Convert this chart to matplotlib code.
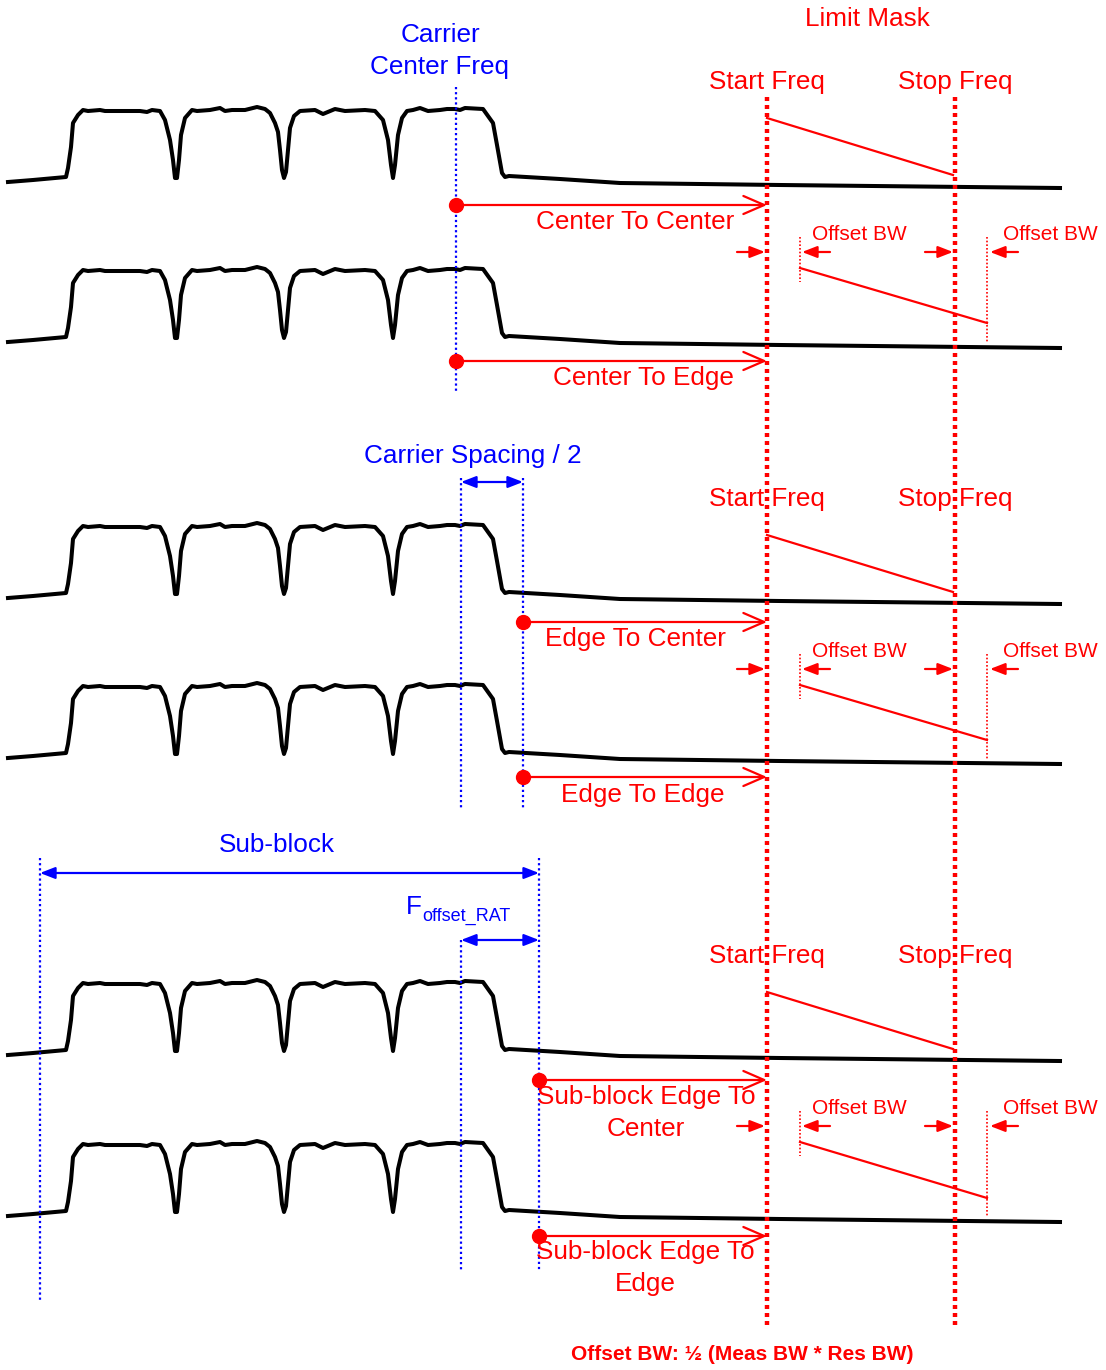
import matplotlib.pyplot as plt

plt.rcParams['font.family'] = ['Liberation Sans', 'DejaVu Sans']

RED = '#ff0000'
BLUE = '#0000ff'

# spectrum trace template (pixel coords of the top trace)
wave_x = [8, 33, 66, 68, 71, 73, 78, 83, 88, 100, 105, 140, 147, 152, 160, 165, 170, 173, 175, 177, 179, 181, 185,
          192, 197, 210, 220, 225, 232, 245, 257, 265, 270, 275, 278, 280, 282, 284, 286, 288, 290, 294,
          300, 315, 323, 335, 345, 365, 375, 383, 388, 391, 393, 395, 398, 402,
          407, 413, 420, 428, 440, 447, 455, 460, 465, 483, 493, 497, 502, 505, 509,
          560, 620, 780, 1060]
wave_y = [182, 180, 177, 168, 147, 123, 115, 110, 111, 110, 111, 111, 112, 110, 111, 120, 140, 160, 178, 178, 160, 135, 118,
          110, 111, 110, 108, 111, 110, 110, 107, 109, 113, 123, 132, 150, 170, 178, 172, 150, 128, 116,
          111, 110, 114, 109, 111, 110, 111, 120, 140, 165, 178, 165, 135, 118,
          111, 110, 108, 111, 110, 109, 109, 110, 108, 109, 123, 145, 173, 177, 176,
          179, 183, 185, 188]
trace_offsets = [0, 160, 416, 576, 873, 1034]

# limit mask
start_x, stop_x = 767, 955
mask_top, mask_bottom = 97, 1325
mask_slopes = [(767, 118, 953, 175), (800, 268, 987, 323),
               (767, 535, 953, 592), (800, 685, 987, 740),
               (767, 992, 953, 1049), (800, 1142, 987, 1198)]
freq_label_y = [82, 499, 956]
offset_rows = [252, 669, 1126]   # arrow y for offset BW marks
offset_text_y = [234, 651, 1108]

# offset measurement arrows
meas_x0 = [456, 456, 523, 523, 539, 539]
meas_y = [205, 361, 622, 777, 1080, 1236]
meas_labels = ['Center To Center', 'Center To Edge', 'Edge To Center', 'Edge To Edge',
               'Sub-block Edge To\nCenter', 'Sub-block Edge To\nEdge']
meas_label_x = [635, 643, 635, 643, 646, 645]
meas_label_y = [222, 378, 639, 795, 1113, 1268]

fig = plt.figure(figsize=(11.06, 13.70), dpi=100)
ax = fig.add_axes([0, 0, 1, 1])
ax.set_xlim(0, 1106)
ax.set_ylim(1370, 0)
ax.axis('off')

for off in trace_offsets:
    ax.plot(wave_x, [y + off for y in wave_y], color='black', lw=2.9, solid_joinstyle='round', zorder=3)

# start / stop verticals
for x in (start_x, stop_x):
    ax.plot([x, x], [mask_top, mask_bottom], color=RED, lw=3.2, linestyle=(0, (0.9, 0.9)), zorder=4)

for x0, y0, x1, y1 in mask_slopes:
    ax.plot([x0, x1], [y0, y1], color=RED, lw=1.6, zorder=4)

fs = 18.8
ax.text(867, 19, 'Limit Mask', color=RED, fontsize=fs, ha='center', va='center')
for y in freq_label_y:
    ax.text(start_x, y, 'Start Freq', color=RED, fontsize=fs, ha='center', va='center')
    ax.text(stop_x, y, 'Stop Freq', color=RED, fontsize=fs, ha='center', va='center')

# offset BW marks
for y, ty in zip(offset_rows, offset_text_y):
    for xa, xb in ((737, 765), (830, 802), (925, 953), (1018, 990)):
        ax.annotate('', xy=(xb, y), xytext=(xa, y),
                    arrowprops=dict(arrowstyle='-|>,head_length=0.9,head_width=0.35', color=RED, lw=1.6,
                                    shrinkA=0, shrinkB=0))
    for x in (800, 987):
        ax.plot([x, x], [y - 15, y + 30 if x == 800 else y + 90], color=RED, lw=1.2,
                linestyle=(0, (1, 1.2)), zorder=4)
    ax.text(812, ty, 'Offset BW', color=RED, fontsize=15, ha='left', va='center')
    ax.text(1003, ty, 'Offset BW', color=RED, fontsize=15, ha='left', va='center')

for x0, y, lab, lx, ly in zip(meas_x0, meas_y, meas_labels, meas_label_x, meas_label_y):
    ax.annotate('', xy=(start_x, y), xytext=(x0, y),
                arrowprops=dict(arrowstyle='->,head_length=1.5,head_width=0.65', color=RED, lw=1.6,
                                shrinkA=0, shrinkB=0), zorder=5)
    ax.plot(x0, y, 'o', color=RED, ms=10, zorder=6)
    ax.text(lx, ly, lab, color=RED, fontsize=fs, ha='center', va='center', linespacing=1.38, zorder=7)

# blue carrier references
blue_lines = [(456, 87, 392), (461, 478, 808), (523, 478, 808),
              (40, 858, 1300), (539, 858, 1270), (461, 940, 1270)]
for x, y0, y1 in blue_lines:
    ax.plot([x, x], [y0, y1], color=BLUE, lw=1.6, linestyle=(0, (1, 1.3)), zorder=5)

blue_spans = [(461, 523, 482), (40, 539, 873), (461, 539, 940)]
for xa, xb, y in blue_spans:
    ax.annotate('', xy=(xb, y), xytext=(xa, y),
                arrowprops=dict(arrowstyle='<|-|>,head_length=0.9,head_width=0.35', color=BLUE, lw=1.6,
                                shrinkA=0, shrinkB=0))

ax.text(440, 51, 'Carrier\nCenter Freq', color=BLUE, fontsize=fs, ha='center', va='center', linespacing=1.38)
ax.text(473, 456, 'Carrier Spacing / 2', color=BLUE, fontsize=fs, ha='center', va='center')
ax.text(277, 845, 'Sub-block', color=BLUE, fontsize=fs, ha='center', va='center')
ax.text(406, 907, 'F', color=BLUE, fontsize=fs, ha='left', va='center')
ax.text(422, 916, 'offset_RAT', color=BLUE, fontsize=13, ha='left', va='center')

ax.text(742, 1355, 'Offset BW: \u00bd (Meas BW * Res BW)', color=RED, fontsize=15,
        fontweight='bold', ha='center', va='center')

fig.savefig('out.png', dpi=100)
